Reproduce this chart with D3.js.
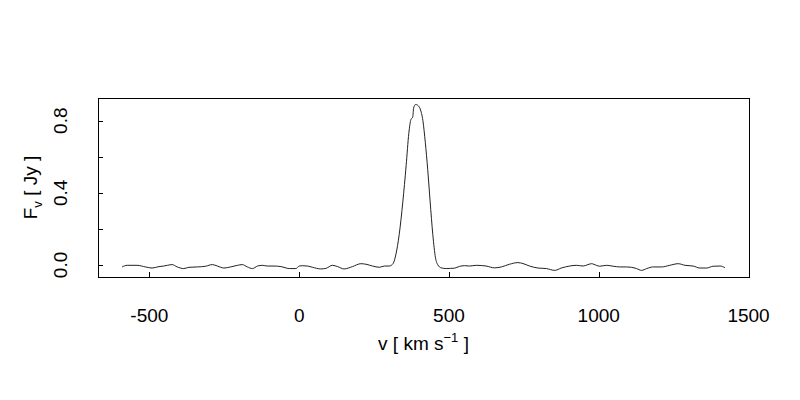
<!DOCTYPE html>
<meta charset="utf-8">

<head>
  <title>spectrum</title>
</head>

<style>
  body { margin: 0; background: #fff; }
  text { font-family: "Liberation Sans", Arial, Helvetica, sans-serif; fill: #000; }
</style>

<body>
  <svg width="800" height="400"></svg>

  <script src="https://cdnjs.cloudflare.com/ajax/libs/d3/7.8.5/d3.min.js"></script>

  <script>
    // velocity channels (km/s) and flux density (Jy)
    var velocity = [-591, -574, -541, -513, -491, -468, -452, -440, -424, -407,
      -385, -368, -340, -312, -290, -273, -251, -229, -206, -190,
      -173, -156, -139, -123, -106, -84, -61, -33, -11, 0,
      11, 28, 45, 72, 89, 111, 128, 150, 178, 206,
      223, 245, 268, 284, 301, 314, 323, 334, 346, 357,
      366, 373, 379, 382, 388, 392, 396, 404, 413, 421,
      429, 437, 446, 455, 463, 474, 491, 505, 518, 535,
      552, 569, 591, 624, 652, 675, 702, 730, 747, 769,
      797, 825, 853, 875, 903, 925, 948, 964, 976, 992,
      1003, 1026, 1048, 1070, 1093, 1109, 1126, 1143, 1160, 1182,
      1210, 1237, 1265, 1288, 1315, 1338, 1360, 1382, 1405, 1421];
    var flux = [-0.011, -0.002, -0.002, -0.011, -0.017, -0.009, -0.006, -0.002, 0.002, -0.011,
      -0.020, -0.013, -0.011, -0.007, 0.002, -0.006, -0.017, -0.011, -0.002, 0.002,
      -0.011, -0.020, -0.006, -0.002, -0.006, -0.006, -0.009, -0.020, -0.020, -0.006,
      -0.004, -0.006, -0.013, -0.022, -0.019, -0.002, -0.009, -0.022, -0.009, 0.007,
      0.004, -0.006, -0.013, -0.006, -0.006, 0.009, 0.060, 0.170, 0.350, 0.550,
      0.730, 0.806, 0.820, 0.870, 0.889, 0.889, 0.885, 0.865, 0.800, 0.680,
      0.530, 0.355, 0.170, 0.040, 0.000, -0.016, -0.020, -0.019, -0.018, -0.008,
      -0.004, -0.006, -0.002, -0.006, -0.016, -0.011, 0.004, 0.013, 0.008, -0.006,
      -0.017, -0.020, -0.030, -0.017, -0.006, -0.002, -0.006, 0.002, 0.007, -0.002,
      -0.007, -0.002, -0.007, -0.011, -0.011, -0.013, -0.020, -0.030, -0.020, -0.011,
      -0.011, -0.002, 0.007, -0.002, -0.006, -0.017, -0.017, -0.007, -0.006, -0.015];

    var xTicks = [-500, 0, 500, 1000, 1500];
    var yTicks = [0, 0.2, 0.4, 0.6, 0.8];
    var yLabels = [0, 0.4, 0.8];

    var box = { left: 98, right: 749, top: 98, bottom: 277 };

    // R style axis extension: 4% on each side
    function pad(ext) {
      var d = (ext[1] - ext[0]) * 0.04;
      return [ext[0] - d, ext[1] + d];
    }

    var x = d3.scaleLinear().domain(pad(d3.extent(velocity))).range([box.left, box.right]);
    var y = d3.scaleLinear().domain(pad(d3.extent(flux))).range([box.bottom, box.top]);

    var svg = d3.select('svg');

    var data = velocity.map(function(v, i) {
      return [v, flux[i]];
    });

    var line = d3.line()
      .x(function(d) { return x(d[0]); })
      .y(function(d) { return y(d[1]); })
      .curve(d3.curveMonotoneX);

    svg.append('path')
      .datum(data)
      .attr('d', line)
      .attr('fill', 'none')
      .attr('stroke', '#222')
      .attr('stroke-width', 1);

    // ticks point inward
    svg.selectAll('.xt')
      .data(xTicks)
      .enter()
      .append('line')
      .attr('x1', function(d) { return Math.round(x(d)) + 0.5; })
      .attr('x2', function(d) { return Math.round(x(d)) + 0.5; })
      .attr('y1', box.bottom)
      .attr('y2', box.bottom - 5)
      .attr('stroke', '#000');

    svg.selectAll('.yt')
      .data(yTicks)
      .enter()
      .append('line')
      .attr('x1', box.left)
      .attr('x2', box.left + 5)
      .attr('y1', function(d) { return Math.round(y(d)) + 0.5; })
      .attr('y2', function(d) { return Math.round(y(d)) + 0.5; })
      .attr('stroke', '#000');

    svg.append('rect')
      .attr('x', box.left + 0.5)
      .attr('y', box.top + 0.5)
      .attr('width', box.right - box.left)
      .attr('height', box.bottom - box.top)
      .attr('fill', 'none')
      .attr('stroke', '#000')
      .attr('stroke-width', 1);

    svg.selectAll('.xl')
      .data(xTicks)
      .enter()
      .append('text')
      .attr('x', function(d) { return x(d); })
      .attr('y', 322)
      .attr('text-anchor', 'middle')
      .style('font-size', '19px')
      .text(function(d) { return d; });

    svg.selectAll('.yl')
      .data(yLabels)
      .enter()
      .append('text')
      .attr('transform', function(d) { return 'translate(67,' + y(d) + ') rotate(-90)'; })
      .attr('text-anchor', 'middle')
      .style('font-size', '19px')
      .text(function(d) { return d.toFixed(1); });

    // axis titles
    var xt = svg.append('text')
      .attr('x', (box.left + box.right) / 2)
      .attr('y', 350)
      .attr('text-anchor', 'middle')
      .style('font-size', '19px');
    xt.append('tspan').text('v [ km s');
    xt.append('tspan').attr('dy', -8).style('font-size', '13px').text('\u22121');
    xt.append('tspan').attr('dy', 8).text(' ]');

    var yt = svg.append('text')
      .attr('transform', 'translate(37,' + (box.top + box.bottom) / 2 + ') rotate(-90)')
      .attr('text-anchor', 'middle')
      .style('font-size', '19px');
    yt.append('tspan').text('F');
    yt.append('tspan').attr('dy', 5).style('font-size', '13px').text('v');
    yt.append('tspan').attr('dy', -5).text(' [ Jy ]');
  </script>
</body>

</html>
